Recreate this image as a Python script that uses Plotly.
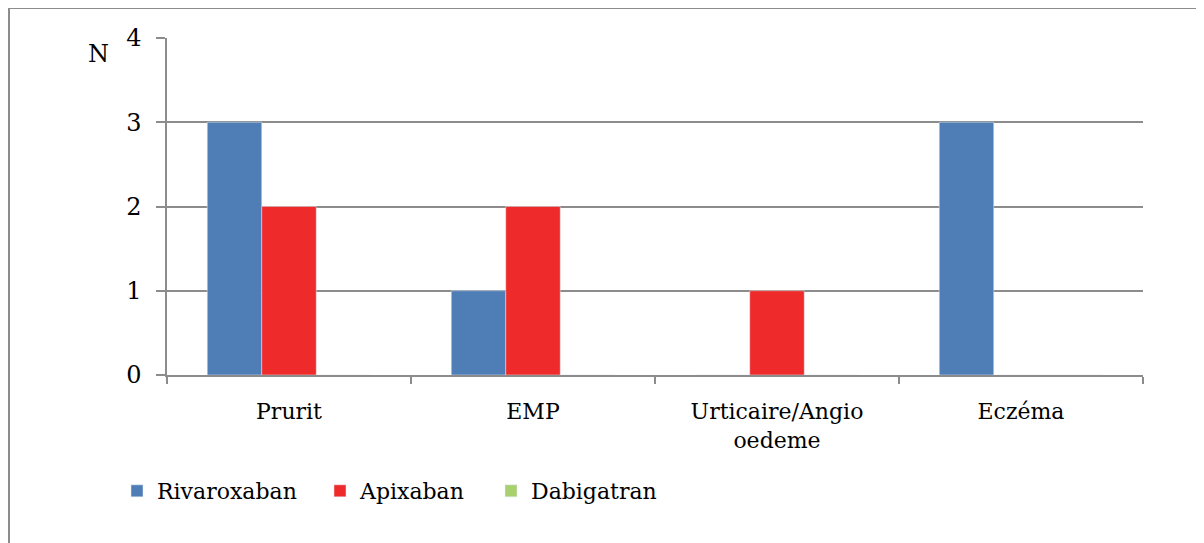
import plotly.graph_objects as go

categories = ["Prurit", "EMP", "Urticaire/Angio<br>oedeme", "Eczéma"]
rivaroxaban = [3, 1, 0, 3]
apixaban = [2, 2, 1, 0]
dabigatran = [0, 0, 0, 0]
y_ticks = [0, 1, 2, 3, 4]

# the page body has an 8px margin, so the figure is drawn from (8, 8)
OFF = 8
W, H = 1204 - OFF, 543 - OFF
L, T = 167 - OFF, 38 - OFF
PW, PH = 976, 337
R, B = W - L - PW, H - T - PH

def px_x(p):
    return (p - OFF - L) / PW

def px_y(p):
    return (T + PH - (p - OFF)) / PH

grid = "#8c8c8c"
serif = "DejaVu Serif"
tf = dict(family=serif, size=22, color="black")

fig = go.Figure()
fig.add_trace(go.Bar(name="Rivaroxaban", x=categories, y=rivaroxaban, marker_color="#4f7db6", legend="legend"))
fig.add_trace(go.Bar(name="Apixaban", x=categories, y=apixaban, marker_color="#ee2a2a", legend="legend2"))
fig.add_trace(go.Bar(name="Dabigatran", x=categories, y=dabigatran, marker_color="#a9d06e", legend="legend3"))

leg = dict(orientation="h", xanchor="left", yanchor="middle", y=px_y(491),
           font=tf, bgcolor="rgba(0,0,0,0)", itemwidth=30)

fig.update_layout(
    width=W, height=H,
    margin=dict(l=L, r=R, t=T, b=B),
    paper_bgcolor="white", plot_bgcolor="white",
    barmode="group", bargap=0.33, bargroupgap=0,
    font=dict(family=serif, size=22, color="black"),
    showlegend=True,
    legend=dict(leg, x=px_x(117)),
    legend2=dict(leg, x=px_x(320)),
    legend3=dict(leg, x=px_x(491)),
)
fig.update_xaxes(
    showline=True, linecolor=grid, linewidth=1.5,
    ticks="outside", tickson="boundaries", ticklen=7, tickcolor=grid, tickwidth=1.5,
    showgrid=False, tickfont=tf, ticklabelstandoff=16,
)
fig.update_yaxes(
    range=[0, 4], tickvals=y_ticks, showgrid=True, gridcolor=grid, gridwidth=1.5,
    showline=True, linecolor=grid, linewidth=1.5, zeroline=False,
    ticks="outside", ticklen=9, tickcolor=grid, tickwidth=1.5,
    tickfont=dict(family=serif, size=24, color="black"), ticklabelstandoff=10,
)
fig.add_annotation(text="N", x=px_x(98), y=px_y(54), xref="paper", yref="paper",
                   xanchor="center", yanchor="middle",
                   showarrow=False, font=dict(family=serif, size=24, color="black"))
# outer frame (left and top edges visible)
fig.add_shape(type="line", xref="paper", yref="paper", x0=px_x(9), x1=px_x(1220), y0=px_y(8), y1=px_y(8),
              line=dict(color=grid, width=2))
fig.add_shape(type="line", xref="paper", yref="paper", x0=px_x(9), x1=px_x(9), y0=px_y(8), y1=px_y(560),
              line=dict(color=grid, width=2))

fig.write_html("out.html")
